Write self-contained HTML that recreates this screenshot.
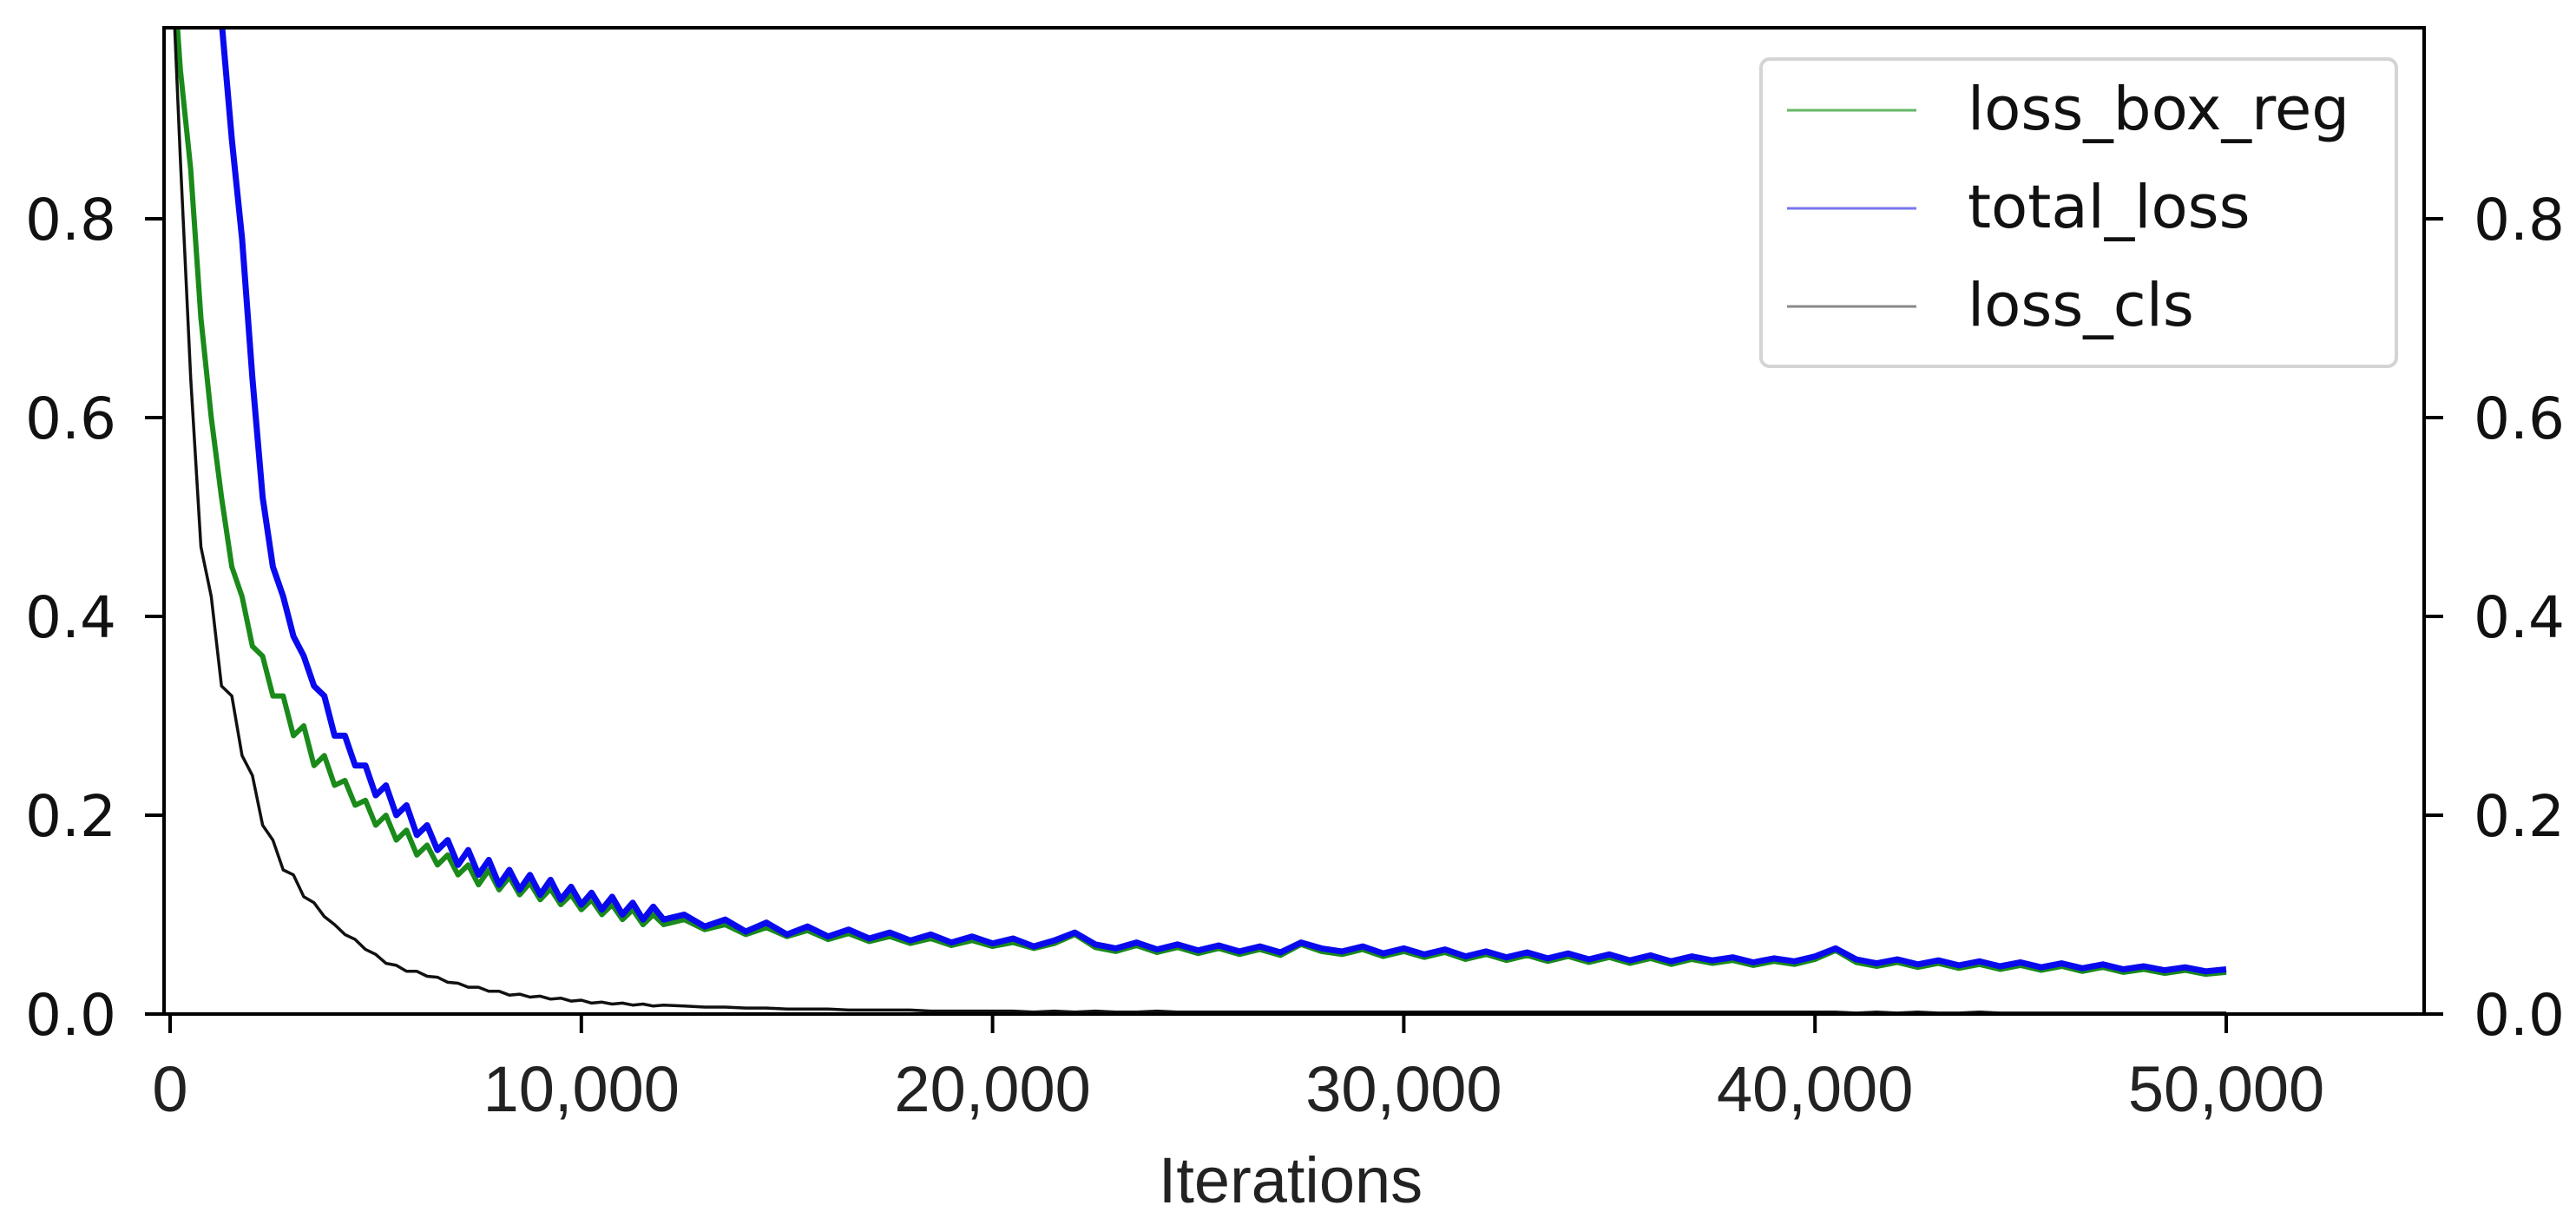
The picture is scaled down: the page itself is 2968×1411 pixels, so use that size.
<!DOCTYPE html>
<html><head><meta charset="utf-8"><style>
html,body{margin:0;padding:0;background:#fff;}
svg{display:block;}
</style></head><body>
<svg id="chart" width="2968" height="1411" viewBox="0 0 2968 1411" xmlns="http://www.w3.org/2000/svg">
<defs><clipPath id="plotclip"><rect x="189" y="32" width="2604" height="1136"/></clipPath></defs>
<rect x="0" y="0" width="2968" height="1411" fill="#fff"/>
<g id="series" clip-path="url(#plotclip)"></g>
<g id="axes"></g>
<g id="legend"></g>
</svg>
<script>
const earlyStep = 250, lateStart = 12500, lateStep = 500;
const blueEarly = [1.25,1.18,1.10,1.08,1.05,1.00,0.88,0.78,0.64,0.52,0.45,0.42,0.38,0.36,0.33,0.32,0.28,0.28,0.25,0.25,0.22,0.23,0.20,0.21,0.18,0.19,0.165,0.175,0.15,0.165,0.14,0.155,0.13,0.145,0.125,0.14,0.12,0.135,0.115,0.128,0.11,0.122,0.105,0.118,0.10,0.112,0.095,0.108,0.095];
const blueLate = [0.10,0.088,0.095,0.083,0.092,0.08,0.088,0.078,0.085,0.076,0.082,0.074,0.08,0.072,0.078,0.071,
0.076,0.068,0.074,0.082,0.07,0.066,0.072,0.065,0.07,0.064,0.069,0.063,0.068,0.062,0.072,0.066,0.063,0.068,0.061,0.066,
0.06,0.065,0.058,0.063,0.057,0.062,0.056,0.061,0.055,0.06,0.054,0.059,0.053,0.058,0.054,0.057,0.052,0.056,0.053,0.058,
0.066,0.055,0.051,0.055,0.05,0.054,0.049,0.053,0.048,0.052,0.047,0.051,0.046,0.05,0.045,0.048,0.044,0.047,0.043,0.045];
const greenEarly = [1.10,0.95,0.85,0.70,0.60,0.52,0.45,0.42,0.37,0.36,0.32,0.32,0.28,0.29,0.25,0.26,0.23,0.235,0.21,0.215,0.19,0.20,0.175,0.185,0.16,0.17,0.15,0.16,0.14,0.15,0.13,0.145,0.125,0.138,0.12,0.132,0.115,0.126,0.11,0.12,0.105,0.115,0.10,0.11,0.095,0.105,0.09,0.10,0.09];
const greenLate = [0.095,0.085,0.09,0.08,0.087,0.078,0.084,0.075,0.081,0.073,0.078,0.071,0.076,0.069,0.074,0.068,
0.072,0.066,0.071,0.08,0.067,0.063,0.069,0.062,0.067,0.061,0.066,0.06,0.065,0.059,0.07,0.063,0.06,0.065,0.058,0.063,
0.057,0.062,0.055,0.06,0.054,0.059,0.053,0.058,0.052,0.057,0.051,0.056,0.05,0.055,0.051,0.054,0.049,0.053,0.05,0.055,
0.064,0.052,0.048,0.052,0.047,0.051,0.046,0.05,0.045,0.049,0.044,0.048,0.043,0.047,0.042,0.045,0.041,0.044,0.04,0.042];
const blackEarly = [1.10,0.86,0.64,0.47,0.42,0.33,0.32,0.26,0.24,0.19,0.175,0.145,0.14,0.118,0.112,0.098,0.09,0.08,0.075,0.065,0.06,0.051,0.049,0.043,0.043,0.038,0.037,0.032,0.031,0.027,0.027,0.023,0.023,0.019,0.02,0.017,0.018,0.015,0.016,0.013,0.014,0.011,0.012,0.01,0.011,0.009,0.01,0.008,0.009];
const blackLate = [0.008,0.007,0.007,0.006,0.006,0.005,0.005,0.005,0.004,0.004,0.004,0.004,0.003,0.003,0.003,0.003,
0.003,0.002,0.003,0.002,0.003,0.002,0.002,0.003,0.002,0.002,0.002,0.002,0.002,0.002,0.002,0.002,0.002,0.002,0.002,0.002,
0.002,0.002,0.002,0.002,0.002,0.002,0.002,0.002,0.002,0.002,0.002,0.002,0.002,0.002,0.002,0.002,0.002,0.002,0.002,0.002,
0.002,0.001,0.002,0.001,0.002,0.001,0.001,0.002,0.001,0.001,0.001,0.001,0.001,0.001,0.001,0.001,0.001,0.001,0.001,0.001];
const xTicks = [0,10000,20000,30000,40000,50000];
const xTickLabels = ["0","10,000","20,000","30,000","40,000","50,000"];
const yTicks = [0,0.2,0.4,0.6,0.8];
const yTickLabels = ["0.0","0.2","0.4","0.6","0.8"];
const legendLabels = ["loss_box_reg","total_loss","loss_cls"];

const NS = "http://www.w3.org/2000/svg";
const X0 = 196, XPER = 0.047380, Y0 = 1168, YPER = 1145;
function xs(v){ return X0 + v*XPER; }
function ys(v){ return Y0 - v*YPER; }
function mk(tag, attrs, parent){ const e=document.createElementNS(NS,tag); for(const k in attrs) e.setAttribute(k,attrs[k]); parent.appendChild(e); return e; }
function pts(early, late){
  const out=[];
  early.forEach((v,i)=>out.push([i*earlyStep, v]));
  late.forEach((v,i)=>out.push([lateStart+i*lateStep, v]));
  return out.map(p=>xs(p[0]).toFixed(1)+","+ys(p[1]).toFixed(1)).join(" ");
}
const sg=document.getElementById('series');
const s1=mk('polyline',{points:pts(greenEarly,greenLate),fill:'none',stroke:'#1a8a1a','stroke-width':6,'stroke-linejoin':'round'},sg);


const s2=mk('polyline',{points:pts(blueEarly,blueLate),fill:'none',stroke:'#0a0aee','stroke-width':7,'stroke-linejoin':'round'},sg);


const s3=mk('polyline',{points:pts(blackEarly,blackLate),fill:'none',stroke:'#111','stroke-width':3.5,'stroke-linejoin':'round'},sg);



const ax=document.getElementById('axes');
const frame=mk('rect',{x:189,y:32,width:2604,height:1136,fill:'none',stroke:'#000','stroke-width':4},ax);


xTicks.forEach((t,i)=>{
  const tk=mk('line',{x1:xs(t),x2:xs(t),y1:1168,y2:1190,stroke:'#000','stroke-width':4},ax);
  
  
  const tl=mk('text',{x:xs(t),y:1280,'text-anchor':'middle','font-family':'Liberation Sans, sans-serif','font-size':74,fill:'#222'},ax);
  tl.textContent=xTickLabels[i];
  
  
});
yTicks.forEach((t,i)=>{
  const a=mk('line',{x1:167,x2:189,y1:ys(t),y2:ys(t),stroke:'#000','stroke-width':4},ax);
  
  
  const b=mk('line',{x1:2793,x2:2815,y1:ys(t),y2:ys(t),stroke:'#000','stroke-width':4},ax);
  
  
  const l=mk('text',{x:134,y:ys(t)+24,'text-anchor':'end','font-family':'DejaVu Sans, sans-serif','font-size':66,fill:'#111'},ax);
  l.textContent=yTickLabels[i];
  
  
  const r=mk('text',{x:2850,y:ys(t)+24,'text-anchor':'start','font-family':'DejaVu Sans, sans-serif','font-size':66,fill:'#111'},ax);
  r.textContent=yTickLabels[i];
  
  
});
const xt=mk('text',{x:1487,y:1385,'text-anchor':'middle','font-family':'Liberation Sans, sans-serif','font-size':74,fill:'#222'},ax);
xt.textContent='Iterations';



const lg=document.getElementById('legend');
const box=mk('rect',{x:2029,y:68,width:732,height:354,rx:10,fill:'#fff',stroke:'#d4d4d4','stroke-width':4},lg);


const lcols=['#66b866','#7777ee','#888'];
legendLabels.forEach((n,i)=>{
  const y=127+i*113;
  const ln=mk('line',{x1:2059,x2:2208,y1:y,y2:y,stroke:lcols[i],'stroke-width':3},lg);
  
  
  const tx=mk('text',{x:2267,y:y+22,'font-family':'DejaVu Sans, sans-serif','font-size':69,fill:'#111'},lg);
  tx.textContent=n;
  
  
});
</script>
</body></html>
